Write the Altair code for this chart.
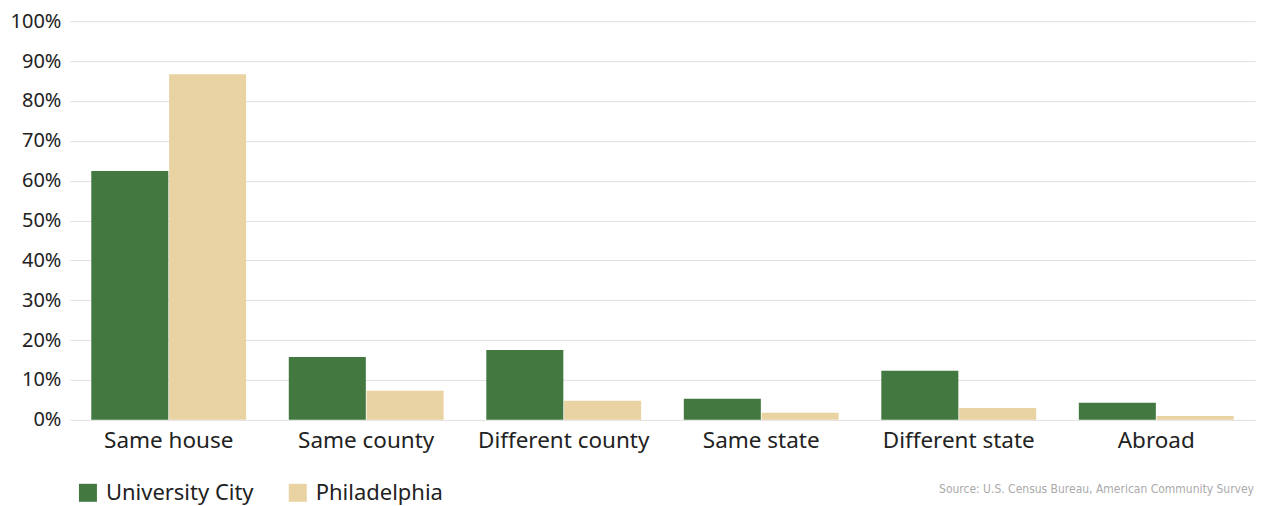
import altair as alt
import pandas as pd

categories = ["Same house", "Same county", "Different county", "Same state", "Different state", "Abroad"]
series = ["University City", "Philadelphia"]
university_city = [62.4, 15.8, 17.5, 5.3, 12.3, 4.3]
philadelphia = [86.7, 7.3, 4.8, 1.8, 3.0, 1.0]
colors = ["#437841", "#e9d3a2"]
source_text = "Source: U.S. Census Bureau, American Community Survey"

rows = []
for c, u, p in zip(categories, university_city, philadelphia):
    rows.append({"category": c, "series": series[0], "value": u / 100})
    rows.append({"category": c, "series": series[1], "value": p / 100})
df = pd.DataFrame(rows)

FONT = "Noto Sans"
W, H = 1186, 399

bars = alt.Chart(df).mark_bar().encode(
    x=alt.X("category:N", sort=categories, title=None,
            scale=alt.Scale(paddingInner=0.216, paddingOuter=0.108),
            axis=alt.Axis(labelAngle=0, labelFontSize=22.5, labelFont=FONT, labelColor="#222",
                          ticks=False, domain=False, labelPadding=10)),
    xOffset=alt.XOffset("series:N", sort=series, scale=alt.Scale(paddingInner=0.01)),
    y=alt.Y("value:Q", title=None,
            scale=alt.Scale(domain=[0, 1]),
            axis=alt.Axis(format=".0%", values=[i / 10 for i in range(11)], labelFontSize=20,
                          labelFont=FONT, labelColor="#222", ticks=False, domain=False,
                          labelPadding=9, gridColor="#e0e0e0", gridWidth=1)),
    color=alt.Color("series:N", sort=series,
                    scale=alt.Scale(domain=series, range=colors),
                    legend=alt.Legend(title=None, orient="none", legendX=7, legendY=461,
                                      direction="horizontal", columns=2, symbolType="square",
                                      symbolSize=324, symbolStrokeWidth=0, labelFontSize=22,
                                      labelFont=FONT, labelColor="#222", labelOffset=7,
                                      columnPadding=33)),
)

source = alt.Chart(pd.DataFrame({"t": [source_text]})).mark_text(
    align="right", baseline="alphabetic", fontSize=12, font="DejaVu Sans Condensed", color="#aaaaaa"
).encode(x=alt.value(W - 1), y=alt.value(472), text="t:N")

chart = alt.layer(bars, source).properties(
    width=W, height=H,
    autosize=alt.AutoSizeParams(type="none"),
    padding={"left": 62, "top": 13, "right": 2, "bottom": 85},
).configure_view(stroke=None).configure_axis(grid=True).configure_axisX(grid=False)

chart.save("out.html", embed_options={"renderer": "svg", "actions": False})
